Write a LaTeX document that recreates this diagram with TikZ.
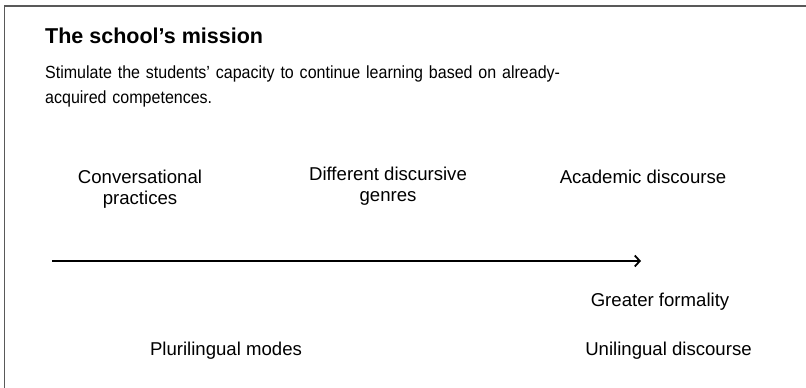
\documentclass[tikz,border=0pt]{standalone}
\usepackage{fontspec}
\setmainfont{Liberation Sans}
\newfontfamily\bodyfont[FakeStretch=0.91]{Liberation Sans}
\usetikzlibrary{arrows.meta}
\begin{document}
\begin{tikzpicture}[x=1pt,y=-1pt,
  lbl/.style={font=\fontsize{18.6}{21.5}\selectfont, align=center, inner sep=0pt, anchor=base},
  body/.style={font=\bodyfont\fontsize{17.6}{24.5}\selectfont, align=left, inner sep=0pt, anchor=base west},
  frame/.style={draw=black!65, line width=1.5pt}]
\useasboundingbox (0,0) rectangle (806,388);
\draw[frame] (4.5,388) -- (4.5,6) -- (806,6);
\node[body, font=\fontsize{21.5}{24}\selectfont\bfseries] (title) at (45,43) {The school’s mission};
\node[body, text width=560pt] (mission) at (45,78.5) {Stimulate the students’ capacity to continue learning based on already-\\acquired competences.};
\node[lbl] (conv) at (140,204.5) {Conversational\\practices};
\node[lbl] (genres) at (388,201.5) {Different discursive\\genres};
\node[lbl] (acad) at (643,183) {Academic discourse};
\coordinate (a0) at (52,261);
\coordinate (a1) at (641,261);
\draw[line width=1.8pt, -{Straight Barb[length=5pt,width=11pt]}] (a0) -- (a1);
\node[lbl] (formal) at (660,306) {Greater formality};
\node[lbl] (pluri) at (226,355) {Plurilingual modes};
\node[lbl] (uni) at (668.5,355) {Unilingual discourse};
\end{tikzpicture}
\end{document}
